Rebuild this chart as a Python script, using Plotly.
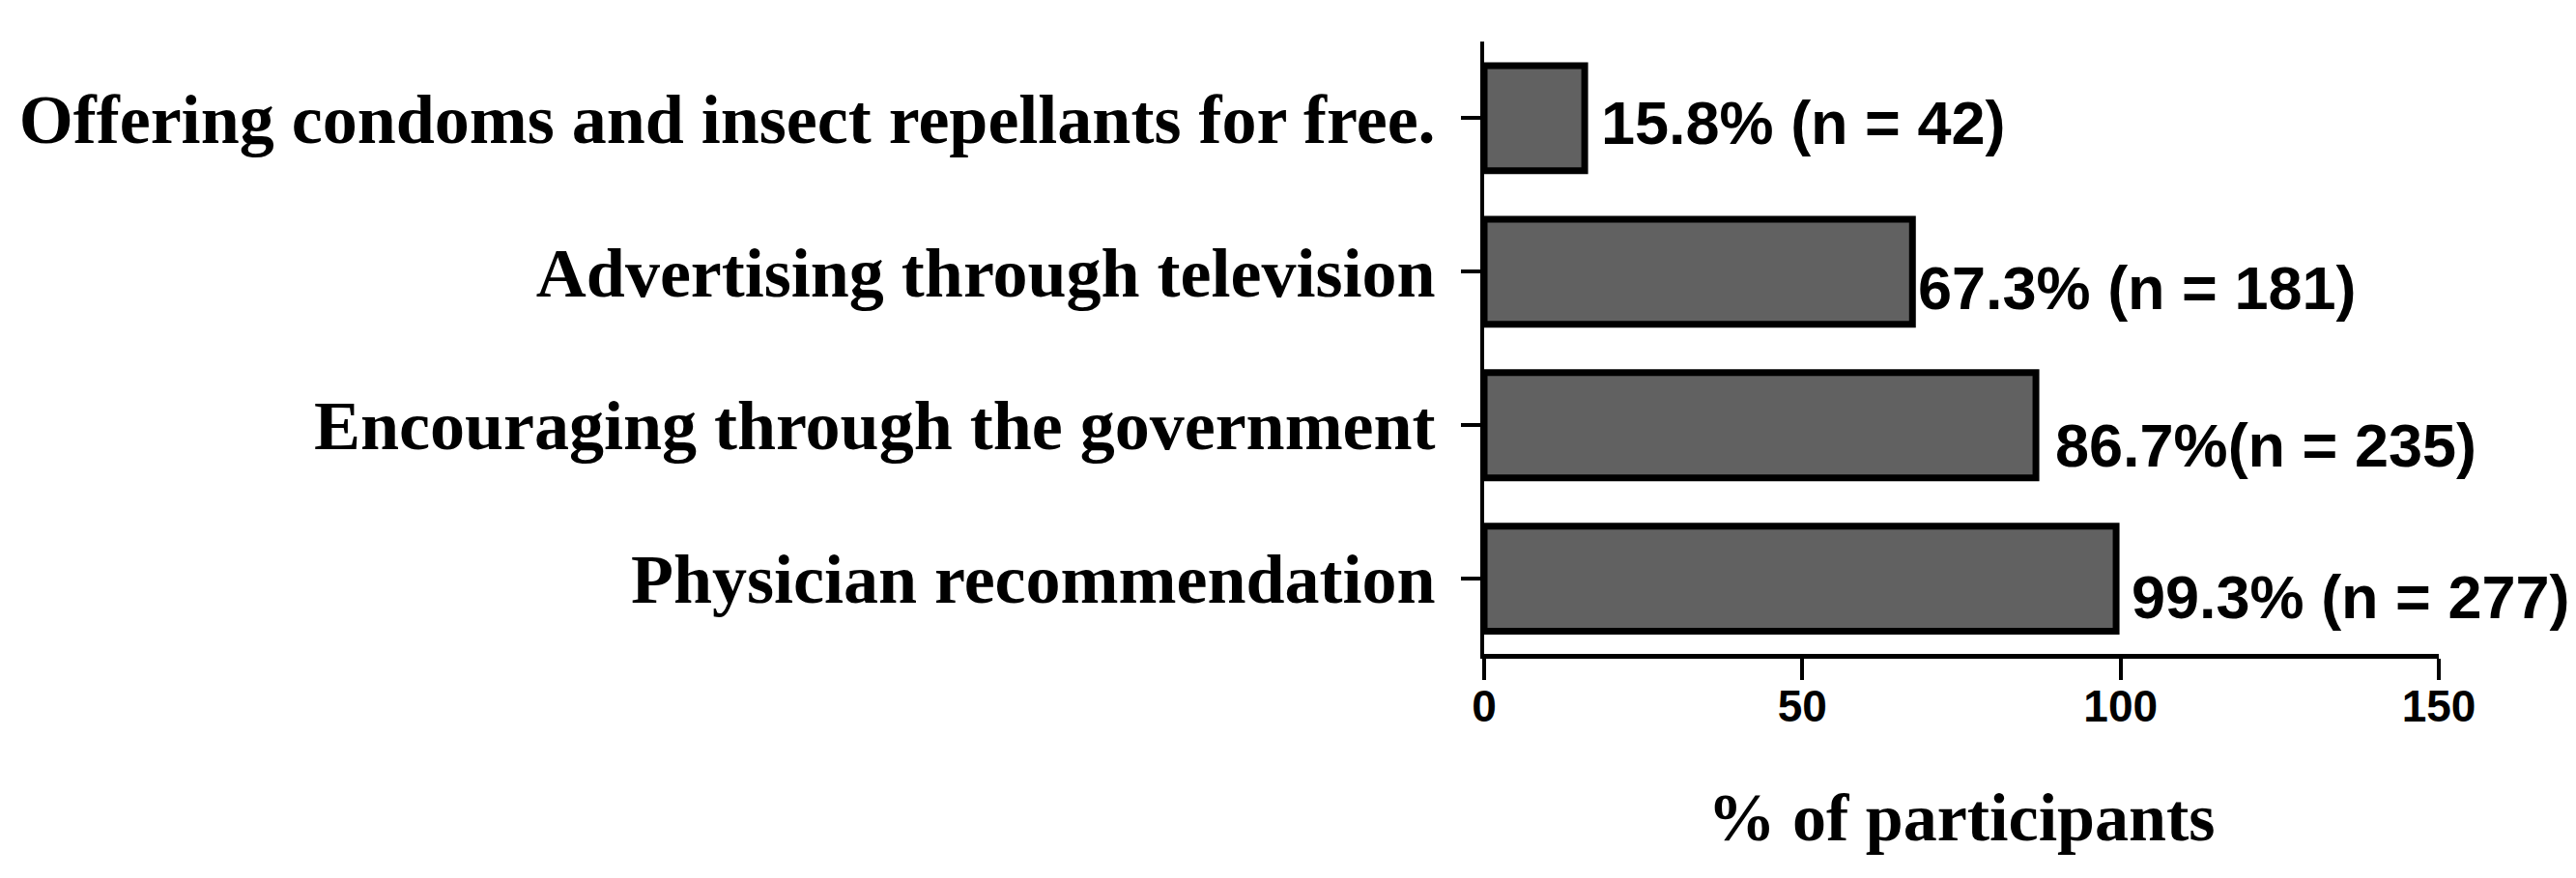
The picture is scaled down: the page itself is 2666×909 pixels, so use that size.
import plotly.graph_objects as go

# top-to-bottom as shown
categories = [
    'Offering condoms and insect repellants for free.',
    'Advertising through television',
    'Encouraging through the government',
    'Physician recommendation',
]
percent = [15.8, 67.3, 86.7, 99.3]
counts = [42, 181, 235, 277]
value_labels = ['15.8% (n = 42)', '67.3% (n = 181)', '86.7%(n = 235)', '99.3% (n = 277)']
x_ticks = [0, 50, 100, 150]

# label nudges (px) to sit like the original
label_dx = [15, 4, 18, 14]
label_dy = [-5, -17, -21, -19]

serif = 'Liberation Serif, Times New Roman, serif'
sans = 'Liberation Sans Narrow, Arial Narrow, Liberation Sans, sans-serif'

fig = go.Figure(go.Bar(
    x=percent,
    y=categories,
    orientation='h',
    width=0.685,
    marker=dict(color='#616161', line=dict(color='black', width=7)),
    hoverinfo='x+y',
))

for cat, val, lab, dx, dy in zip(categories, percent, value_labels, label_dx, label_dy):
    fig.add_annotation(
        x=val, y=cat, text=lab, showarrow=False,
        xanchor='left', yanchor='middle', xshift=dx, yshift=dy,
        font=dict(family=sans, size=63, color='black', weight='bold'),
    )

fig.update_layout(
    width=2666, height=909,
    margin=dict(l=1525, r=150, t=35, b=240),
    paper_bgcolor='white', plot_bgcolor='white',
    showlegend=False,
    xaxis=dict(
        range=[0, 150], tickvals=x_ticks, showgrid=False, zeroline=False,
        showline=True, linecolor='black', linewidth=5,
        ticks='outside', ticklen=22, tickwidth=4, tickcolor='black',
        ticklabelstandoff=-12,
        tickfont=dict(family='Liberation Sans, Arial, sans-serif', size=46, color='black', weight='bold'),
        title=dict(text='% of participants', standoff=66,
                   font=dict(family=serif, size=70, color='black', weight='bold')),
    ),
    yaxis=dict(
        range=[3.49, -0.5], showgrid=False, zeroline=False,
        showline=True, linecolor='black', linewidth=4,
        ticks='outside', ticklen=20, tickwidth=4, tickcolor='black',
        ticklabelstandoff=12,
        tickfont=dict(family=serif, size=72, color='black', weight='bold'),
    ),
)

fig.write_html('out.html')
